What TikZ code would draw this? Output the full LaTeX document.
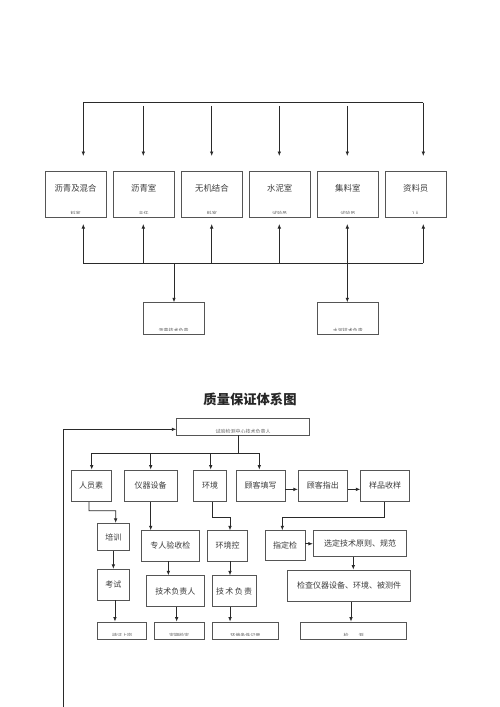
\documentclass[tikz,border=0pt]{standalone}
\usepackage{fontspec}
\newfontfamily\cjk{Noto Sans CJK SC}
\usetikzlibrary{arrows.meta}
\definecolor{linec}{HTML}{2A2A2A}
\definecolor{boxc}{HTML}{555555}
\definecolor{txtc}{HTML}{3C3C3C}
\begin{document}
\begin{tikzpicture}[x=1pt,y=-1pt,
  line/.style={draw=linec, line width=0.75pt},
  arr/.style={line, -{Latex[length=4.5pt,width=3.6pt]}},
  arrb/.style={line, {Latex[length=4.5pt,width=3.6pt]}-{Latex[length=4.5pt,width=3.6pt]}},
  box/.style={draw=boxc, line width=0.8pt, fill=white, inner sep=0pt, text=txtc,
    font=\cjk\fontsize{8}{8}\selectfont},
  txt/.style={inner sep=0pt, text=txtc, font=\cjk\fontsize{8.4}{8.4}\selectfont},
  sub/.style={inner sep=0pt, text=txtc!80, font=\cjk\fontsize{5}{5}\selectfont},
]
\useasboundingbox (0,0) rectangle (500,707);
\fill[white] (0,0) rectangle (500,707);

% ---------------- upper chart ----------------
\foreach \n/\cx/\main/\sb in {A1/75.5/沥青及混合/料室, A2/143.7/沥青室/主任, A3/211.9/无机结合/料室,
    A4/279.7/水泥室/试验员, A5/347.8/集料室/试验员, A6/415.7/资料员/1人}{
  \node[box, minimum width=61pt, minimum height=45.6pt] (\n) at (\cx,194.5) {};
  \node[txt] (\n t) at (\cx,188.3) {\main};
  \begin{scope}
    \clip ([yshift=3.9pt]\n.south west) rectangle (\n.north east);
    \node[sub] (\n s) at ([yshift=3.9pt]\n.south) {\sb};
  \end{scope}
}
\node[box, minimum width=60.7pt, minimum height=31.3pt] (B1) at (173.7,318.3) {};
\node[box, minimum width=61pt, minimum height=31.3pt] (B2) at (347.8,318.3) {};
\begin{scope}
  \clip ([yshift=3.9pt]B1.south west) rectangle (B1.north east);
  \node[sub] (B1s) at ([yshift=3.9pt]B1.south) {沥青技术负责};
\end{scope}
\begin{scope}
  \clip ([yshift=3.9pt]B2.south west) rectangle (B2.north east);
  \node[sub] (B2s) at ([yshift=3.9pt]B2.south) {水泥技术负责};
\end{scope}

% top bus
\coordinate (tl) at (83.3,102.7);
\coordinate (tr) at (423.3,102.7);
\draw[line] (tl) -- (tr);
\foreach \i/\x in {1/83.3,2/143.3,3/211.7,4/279.3,5/347.3,6/423.3}{
  \coordinate (d\i) at (\x,156);
  \coordinate (s\i) at (\x,105.8);
}
\draw[arr] (tl) -- (d1);
\foreach \i in {2,...,5}{ \draw[arr] (s\i) -- (d\i); }
\draw[arr] (tr) -- (d6);

% bottom bus
\coordinate (bl) at (83.3,263.3);
\coordinate (br) at (423.3,263.3);
\draw[line] (bl) -- (br);
\foreach \i/\x in {1/83.3,2/143.3,3/211.7,4/279.3,5/347.3,6/423.3}{
  \coordinate (u\i) at (\x,224);
}
\foreach \i in {1,2,3,4,6}{ \draw[arr] (u\i |- bl) -- (u\i); }
\draw[arrb] (u5) -- (u5 |- B2.north);
\coordinate (bm) at (174,263.3);
\draw[arr] (bm) -- (bm |- B1.north);

% ---------------- lower chart ----------------
\node[inner sep=0pt, text=black!85, font=\cjk\bfseries\fontsize{13.3}{13.3}\selectfont] (title) at (250,399.3) {质量保证体系图};

\node[box, minimum width=132.6pt, minimum height=16.7pt] (T) at (243,426.7) {};
\begin{scope}
  \clip ([yshift=3.4pt]T.south west) rectangle (T.north east);
  \node[sub] (Ts) at ([yshift=3.4pt]T.south) {试验检测中心技术负责人};
\end{scope}

% first row
\node[box, minimum width=40pt,   minimum height=31.7pt] (P1) at (91,485.85) {人员素};
\node[box, minimum width=53.3pt, minimum height=31.7pt] (P2) at (150.7,485.85) {仪器设备};
\node[box, minimum width=33.4pt, minimum height=31.7pt] (P3) at (210,485.85) {环境};
\node[box, minimum width=49pt,   minimum height=31.7pt] (P4) at (260.5,485.85) {顾客填写};
\node[box, minimum width=49pt,   minimum height=31.7pt] (P5) at (322.8,485.85) {顾客指出};
\node[box, minimum width=48.6pt, minimum height=31.7pt] (P6) at (385,485.85) {样品收样};

% second/third rows
\node[box, minimum width=31.3pt, minimum height=27.4pt] (Q1) at (113.35,537) {培训};
\node[box, minimum width=31.3pt, minimum height=30.7pt] (Q2) at (113.35,584.65) {考试};
\node[box, minimum width=57.3pt, minimum height=30.3pt] (S1) at (170.35,545.85) {专人验收检};
\node[box, minimum width=57.3pt, minimum height=31pt]   (S2) at (175.35,591.2) {技术负责人};
\node[box, minimum width=39.6pt, minimum height=30.3pt] (E1) at (227.5,545.85) {环境控};
\node[box, minimum width=43.7pt, minimum height=31pt]   (E2) at (234.15,591.2) {技\,术\,负\,责};
\node[box, minimum width=40pt,   minimum height=29.3pt] (Z1) at (285,545.35) {指定检};
\node[box, minimum width=93.4pt, minimum height=26pt]   (Z2) at (360,543.7) {选定技术原则、规范};
\node[box, minimum width=123.4pt,minimum height=31.7pt] (Z3) at (349,585.85) {检查仪器设备、环境、被测件};

% bottom row (clipped texts)
\foreach \n/\cx/\w/\t in {R1/122.2/49/持证上岗, R2/179.15/49.7/定期检定, R3/245.3/66/环境条件记录, R4/353.7/106/检\quad\quad 测}{
  \node[box, minimum width=\w pt, minimum height=17pt] (\n) at (\cx,630.5) {};
  \begin{scope}
    \clip ([yshift=3.9pt]\n.south west) rectangle (\n.north east);
    \node[sub] (\n s) at ([yshift=3.9pt]\n.south) {\t};
  \end{scope}
}

% feedback line
\coordinate (fb) at (63.3,707);
\draw[arr] (fb) |- ([yshift=-2.6pt]T.west);

% distribution bus
\coordinate (stem) at (238.3,453.3);
\draw[line] ([xshift=-4.7pt]T.south) -- (stem);
\coordinate (busl) at (91.7,453.3);
\coordinate (busr) at (259.3,453.3);
\draw[line] (busl) -- (busr);
\draw[arr] (busl) -- ([xshift=0.7pt]P1.north);
\draw[arr] (150.7,453.3) -- (P2.north);
\draw[arr] (210.7,453.3) -- ([xshift=0.7pt]P3.north);
\draw[arr] (busr) -- ([xshift=-1.2pt]P4.north);

\draw[arr] ([yshift=-3.5pt]P4.east) -- ([yshift=-3.5pt]P5.west);
\draw[arr] ([yshift=-3.5pt]P5.east) -- ([yshift=-3.5pt]P6.west);

% elbow connectors
\draw[arr] ([xshift=-2pt]P1.south) |- (115.7,510.7) -- ([xshift=2.3pt]Q1.north);
\draw[arr] (P2.south) -- (P2.south |- S1.north);
\draw[arr] ([xshift=2.3pt]P3.south) |- (230,517.3) -- ([xshift=2.5pt]E1.north);
\draw[arr] ([xshift=-0.7pt]P6.south) |- (282.3,517.3) -- ([xshift=-2.7pt]Z1.north);

\draw[arr] ([yshift=1.6pt]Z1.east) -- ([yshift=1.6pt]Z1.east -| Z2.west);
\draw[arr] ([xshift=-6.7pt]Z2.south) -- ([xshift=-6.7pt]Z2.south |- Z3.north);
\draw[arr] ([xshift=2pt]Z3.south) -- ([xshift=2pt]Z3.south |- R4.north);

\draw[arr] (Q1.south) -- (Q1.south |- Q2.north);
\draw[arr] ([xshift=1.6pt]Q2.south) -- ([xshift=1.6pt]Q2.south |- R1.north);
\draw[arr] ([xshift=-2pt]S1.south) -- ([xshift=-2pt]S1.south |- S2.north);
\draw[arr] ([xshift=1.3pt]S2.south) -- ([xshift=1.3pt]S2.south |- R2.north);
\draw[arr] ([xshift=2.5pt]E1.south) -- ([xshift=2.5pt]E1.south |- E2.north);
\draw[arr] ([xshift=-4.1pt]E2.south) -- ([xshift=-4.1pt]E2.south |- R3.north);
\end{tikzpicture}
\end{document}
